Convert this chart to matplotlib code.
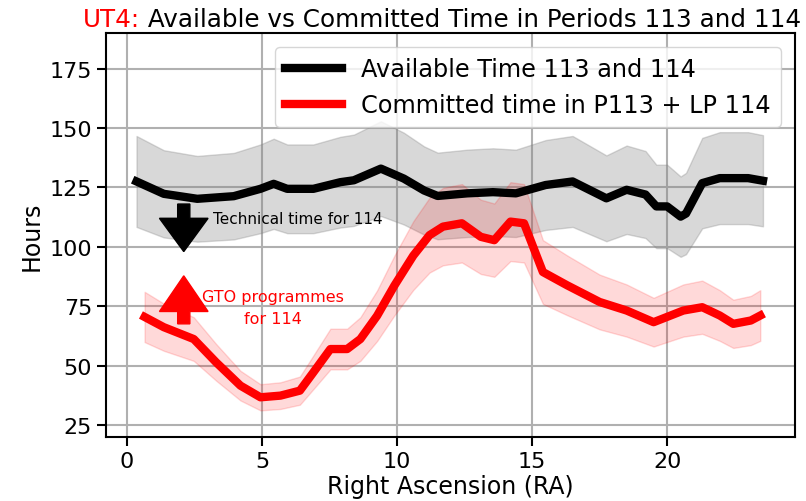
import matplotlib
matplotlib.use("Agg")
import matplotlib.pyplot as plt
import numpy as np

# Available time (black)
ra_avail = [0.35, 1.36, 2.6, 3.95, 4.94, 5.43, 5.93, 6.9, 7.9, 8.4, 9.4, 10.25, 11.0, 11.5,
            12.6, 13.55, 14.4, 15.5, 16.5, 17.75, 18.5, 19.2, 19.6, 20.0, 20.5, 20.7, 21.3,
            21.95, 23.0, 23.55]
t_avail = [127.5, 122.3, 120.2, 121.3, 124.4, 126.5, 124.4, 124.4, 127.2, 128.0, 132.9, 128.7,
           123.7, 121.4, 122.5, 123.0, 122.5, 126.0, 127.5, 120.4, 124.0, 122.0, 117.0, 117.0,
           112.7, 114.0, 126.8, 128.9, 128.9, 127.8]

# Committed time (red)
ra_comm = [0.65, 1.36, 2.47, 3.3, 4.2, 4.94, 5.68, 6.4, 6.9, 7.53, 8.15, 8.64, 9.26, 9.9, 10.6,
           11.2, 11.7, 12.4, 13.1, 13.6, 14.2, 14.7, 15.4, 16.3, 17.5, 18.5, 19.5, 20.6, 21.3,
           21.95, 22.45, 23.1, 23.45]
t_comm = [70.5, 66.2, 61.2, 51.4, 41.6, 36.7, 37.4, 39.5, 47.2, 57.0, 57.0, 61.2, 71.0, 83.7,
          96.3, 104.9, 108.5, 109.9, 104.2, 102.8, 110.6, 109.9, 89.4, 83.8, 76.8, 73.2, 68.3,
          73.2, 74.6, 71.1, 67.6, 69.0, 71.1]

frac_err = 0.15  # width of the shaded bands

ra_avail = np.array(ra_avail)
t_avail = np.array(t_avail)
ra_comm = np.array(ra_comm)
t_comm = np.array(t_comm)

fig = plt.figure(figsize=(8.06, 5.02), dpi=100)
ax = fig.add_axes([0.1315, 0.1275, 0.855, 0.805])

ax.fill_between(ra_avail, t_avail*(1-frac_err), t_avail*(1+frac_err), color='grey', alpha=0.3)
ax.fill_between(ra_comm, t_comm*(1-frac_err), t_comm*(1+frac_err), color='red', alpha=0.15)
ax.plot(ra_avail, t_avail, color='black', lw=6, label='Available Time 113 and 114')
ax.plot(ra_comm, t_comm, color='red', lw=6, label='Committed time in P113 + LP 114')

ax.arrow(2.1, 118, 0, -20, width=0.45, head_width=1.8, head_length=14,
         length_includes_head=True, color='black')
ax.text(3.2, 112, 'Technical time for 114', fontsize=11, va='center', ha='left')
ax.arrow(2.1, 67.6, 0, 20.2, width=0.45, head_width=1.8, head_length=15,
         length_includes_head=True, color='red')
ax.text(5.4, 74.4, 'GTO programmes\nfor 114', fontsize=11.5, va='center', ha='center',
        color='red', linespacing=1.55)

ax.set_xlim(-0.78, 24.74)
ax.set_ylim(20, 190)
ax.set_xticks([0, 5, 10, 15, 20])
ax.set_yticks([25, 50, 75, 100, 125, 150, 175])
ax.grid(True, color='#b0b0b0', lw=1.5)
ax.set_axisbelow(True)
ax.tick_params(labelsize=16, length=6.5, width=1.5)
for s in ax.spines.values():
    s.set_linewidth(1.5)
ax.set_xlabel('Right Ascension (RA)', fontsize=17, labelpad=2)
ax.set_ylabel('Hours', fontsize=17, labelpad=4)

ax.legend(loc='upper right', fontsize=17.3, handlelength=2.4, borderaxespad=0.6)

ax.text(0.050, 1.017, 'UT4:', color='red', fontsize=17.7, ha='right', va='baseline',
        transform=ax.transAxes)
ax.text(0.050, 1.017, ' Available vs Committed Time in Periods 113 and 114', fontsize=17.7,
        ha='left', va='baseline', transform=ax.transAxes)

fig.savefig('out.png', dpi=100)
